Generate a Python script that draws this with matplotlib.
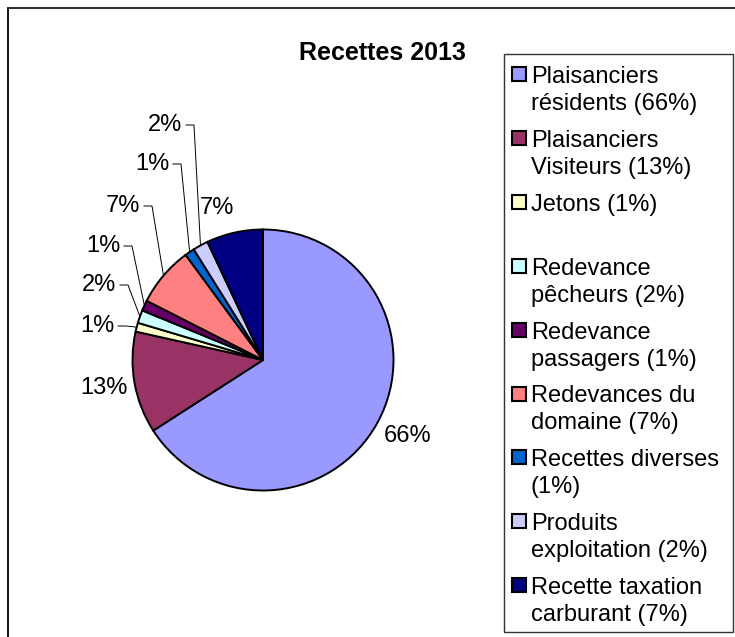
import numpy as np
import matplotlib.pyplot as plt
from matplotlib.patches import Rectangle

plt.rcParams['font.family'] = ['Liberation Sans', 'DejaVu Sans']

# ======================
# DONNEES
# ======================
categories = [
    "Plaisanciers\nrésidents",
    "Plaisanciers\nVisiteurs",
    "Jetons",
    "Redevance\npêcheurs",
    "Redevance\npassagers",
    "Redevances du\ndomaine",
    "Recettes diverses\n",
    "Produits\nexploitation",
    "Recette taxation\ncarburant",
]
values = [65.9, 12.6, 1.1, 1.6, 1.3, 7.4, 1.2, 1.9, 7.0]
colors = ['#9999FF', '#993366', '#FFFFCC', '#CCFFFF', '#660066',
          '#FF8080', '#0066CC', '#CCCCFF', '#000080']
title = "Recettes 2013"

# ======================
# MISE EN PAGE (pixels image, y vers le bas)
# ======================
W, H = 735, 637
cx, cy, R = 263, 360, 130.5
# position des etiquettes (centre du texte) et leader (True/False)
lab_pos = [(408, 436), (104, 388), (97, 326), (99, 285), (103, 246),
           (123, 206), (152, 164), (165, 125), (217, 208)]
leader = [False, False, True, True, True, True, True, True, False]

fig = plt.figure(figsize=(W / 100, H / 100), dpi=100)
ax = fig.add_axes([0, 0, 1, 1])

def Y(y):
    return H - y

wedges, _ = ax.pie(values, colors=colors, startangle=90, counterclock=False,
                   center=(cx, Y(cy)), radius=R,
                   wedgeprops=dict(edgecolor='black', linewidth=1.4))

ax.set_xlim(0, W)
ax.set_ylim(0, H)
ax.set_aspect('auto')
ax.axis('off')

# etiquettes de pourcentage
for w, v, (tx, ty), ld in zip(wedges, values, lab_pos, leader):
    txt = f"{round(v):d}%"
    ax.text(tx, Y(ty), txt, fontsize=17, ha='center', va='center')
    if ld:
        a = np.deg2rad((w.theta1 + w.theta2) / 2)
        ex = cx + R * np.cos(a)
        ey = Y(cy) + R * np.sin(a)
        x0 = tx + 21
        ax.plot([x0, x0 + 8, ex], [Y(ty), Y(ty), ey], color='black', lw=0.7)

# titre
ax.text(382, Y(53), title, fontsize=18, fontweight='bold',
        ha='center', va='center')

# cadre exterieur
ax.plot([8, 8], [0, Y(8)], color='black', lw=1.3)
ax.plot([8, W], [Y(8), Y(8)], color='#333333', lw=1.5)

# legende
ax.add_patch(Rectangle((504, Y(632)), 229, 578, facecolor='white',
                       edgecolor='#333333', lw=1.0))
pitch = 63.9
for i, (cat, v, c) in enumerate(zip(categories, values, colors)):
    y0 = 67 + i * pitch
    ax.add_patch(Rectangle((512.5, Y(y0 + 14)), 14, 14, facecolor=c,
                           edgecolor='black', lw=1.5))
    lines = cat.split('\n')
    lines[-1] = (lines[-1] + f" ({round(v):d}%)").strip()
    for j, ln in enumerate(lines):
        ax.text(531, Y(y0 + 16 + j * 27), ln, fontsize=17,
                ha='left', va='baseline')

fig.savefig('out.png', dpi=100)
